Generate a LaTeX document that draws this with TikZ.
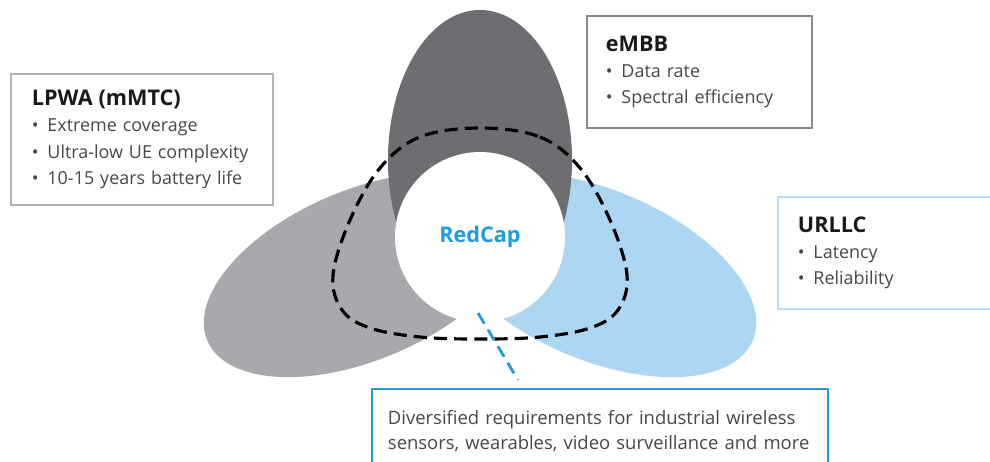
\documentclass[tikz,border=0pt]{standalone}
\usepackage{fontspec}
\setmainfont{Open Sans}

\definecolor{bladedark}{HTML}{6D6E71}
\definecolor{bladegray}{HTML}{A8A9AC}
\definecolor{bladeblue}{HTML}{ADD6F2}
\definecolor{redcapblue}{HTML}{1E9DD8}
\definecolor{boxgray}{HTML}{B4B4B4}
\definecolor{boxdark}{HTML}{8A8A8A}
\definecolor{boxlight}{HTML}{BCDDF3}
\definecolor{textgray}{HTML}{474747}

\newcommand{\ringsize}{3.4cm}
\newcommand{\point}{\textbullet\hspace{5pt}}
\newcommand{\heading}[1]{{\fontsize{12.3}{15}\selectfont\bfseries\color{black!90}#1}}

\begin{document}
\begin{tikzpicture}[
    x=0.02cm, y=0.02cm,
    item font/.style={font=\fontsize{10.2}{15}\selectfont},
    info box/.style={draw, line width=1.1pt, anchor=north west, align=left,
        inner ysep=0pt, text=textgray, item font},
    envelope/.style={line width=1.8pt, dash pattern=on 7.5pt off 4pt},
    tick line/.style={redcapblue, line width=1.6pt, dash pattern=on 7pt off 4pt}
]

\useasboundingbox (0,0) rectangle (990,461);
\clip (0,0) rectangle (990,461);

% BLADES
\fill[bladegray, rotate around={23:(362,186)}] (362,186) ellipse [x radius=168, y radius=85];
\fill[bladeblue, rotate around={-23:(598,186)}] (598,186) ellipse [x radius=168, y radius=85];
\fill[bladedark] (480,301) ellipse [x radius=92, y radius=150];

% CENTRE
\node[circle, fill=white, inner sep=0pt, minimum size=\ringsize,
      text=redcapblue, font=\fontsize{12.3}{15}\selectfont\bfseries] (redcap) at (480,224) {RedCap};

% Envelope
\draw[envelope] plot[smooth cycle, tension=0.6] coordinates {
    (480,333) (540,324) (580,293) (610,241) (627,186) (618,151) (590,133) (540,124)
    (480,122) (420,124) (370,133) (342,151) (333,186) (350,241) (380,293) (420,324)};

% LABELS
\node[info box, draw=boxgray, inner xsep=0.42cm, minimum width=5.24cm, minimum height=2.62cm,
      text width=4.4cm] (lpwa_box) at (10,388)
    {\heading{LPWA (mMTC)}\\ \point Extreme coverage\\ \point Ultra-low UE complexity\\ \point 10-15 years battery life};
\node[info box, draw=boxdark, inner xsep=0.38cm, minimum width=4.5cm, minimum height=2.24cm,
      text width=3.74cm] (embb_box) at (586,446)
    {\heading{eMBB}\\ \point Data rate\\ \point Spectral efficiency};
\node[info box, draw=boxlight, inner xsep=0.4cm, minimum width=4.8cm, minimum height=2.24cm,
      text width=4cm] (urllc_box) at (777,265)
    {\heading{URLLC}\\ \point Latency\\ \point Reliability};
\node[info box, draw=redcapblue, inner xsep=0.32cm, minimum width=9.12cm, minimum height=1.68cm,
      text width=8.48cm, font=\fontsize{10.5}{14.2}\selectfont] (needs_box) at (371,73)
    {Diversified requirements for industrial wireless\\ sensors, wearables, video surveillance and more};

\coordinate (tick_top) at ([shift={(-2,-76)}]redcap.center);
\coordinate (tick_bottom) at ([shift={(147,8)}]needs_box.north west);
\draw[tick line] (tick_top) -- (tick_bottom);

\end{tikzpicture}
\end{document}
